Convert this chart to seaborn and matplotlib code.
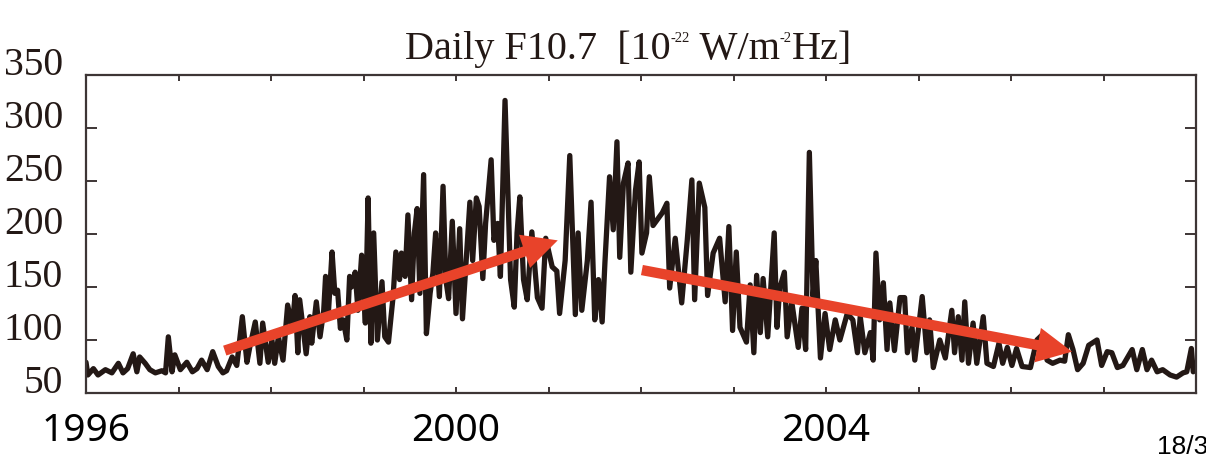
import matplotlib
matplotlib.use("Agg")
import matplotlib.pyplot as plt
import matplotlib.transforms as mtransforms
from matplotlib.patches import FancyArrowPatch
from matplotlib.ticker import FixedLocator, MultipleLocator
import seaborn as sns
import pandas as pd

# Daily F10.7 solar radio flux, 1996-2008 (decimal year, flux in sfu)
years = [
    1996.00, 1996.02, 1996.08, 1996.13, 1996.21, 1996.28, 1996.35, 1996.40, 1996.45, 1996.51,
    1996.55, 1996.58, 1996.64, 1996.69, 1996.75, 1996.82, 1996.86, 1996.89, 1996.93, 1996.96,
    1997.02, 1997.09, 1997.15, 1997.20, 1997.25, 1997.31, 1997.37, 1997.43, 1997.48, 1997.52,
    1997.58, 1997.63, 1997.69, 1997.74, 1997.77, 1997.83, 1997.88, 1997.91, 1997.97, 1998.01,
    1998.04, 1998.08, 1998.13, 1998.18, 1998.23, 1998.26, 1998.29, 1998.31, 1998.38, 1998.42,
    1998.44, 1998.49, 1998.53, 1998.57, 1998.59, 1998.62, 1998.66, 1998.69, 1998.72, 1998.75,
    1998.78, 1998.82, 1998.85, 1998.87, 1998.91, 1998.94, 1998.98, 1999.02, 1999.05, 1999.08,
    1999.11, 1999.15, 1999.20, 1999.23, 1999.27, 1999.32, 1999.35, 1999.39, 1999.41, 1999.45,
    1999.48, 1999.52, 1999.55, 1999.58, 1999.61, 1999.65, 1999.68, 1999.72, 1999.75, 1999.78,
    1999.82, 1999.86, 1999.89, 1999.92, 1999.96, 2000.00, 2000.04, 2000.07, 2000.11, 2000.15,
    2000.18, 2000.22, 2000.25, 2000.29, 2000.32, 2000.38, 2000.41, 2000.45, 2000.48, 2000.53,
    2000.55, 2000.59, 2000.63, 2000.66, 2000.69, 2000.73, 2000.77, 2000.82, 2000.88, 2000.93,
    2000.97, 2001.04, 2001.09, 2001.12, 2001.18, 2001.23, 2001.29, 2001.32, 2001.36, 2001.42,
    2001.46, 2001.50, 2001.54, 2001.58, 2001.61, 2001.66, 2001.70, 2001.74, 2001.77, 2001.81,
    2001.86, 2001.89, 2001.94, 2001.98, 2002.01, 2002.06, 2002.09, 2002.13, 2002.23, 2002.28,
    2002.31, 2002.37, 2002.44, 2002.50, 2002.55, 2002.58, 2002.63, 2002.69, 2002.72, 2002.78,
    2002.85, 2002.91, 2002.95, 2002.99, 2003.03, 2003.07, 2003.14, 2003.18, 2003.22, 2003.25,
    2003.29, 2003.32, 2003.37, 2003.44, 2003.47, 2003.50, 2003.55, 2003.58, 2003.63, 2003.70,
    2003.74, 2003.78, 2003.82, 2003.86, 2003.89, 2003.94, 2003.99, 2004.04, 2004.10, 2004.15,
    2004.23, 2004.29, 2004.34, 2004.37, 2004.42, 2004.48, 2004.51, 2004.54, 2004.58, 2004.62,
    2004.66, 2004.69, 2004.74, 2004.80, 2004.85, 2004.88, 2004.93, 2004.96, 2005.04, 2005.09,
    2005.12, 2005.16, 2005.23, 2005.29, 2005.36, 2005.39, 2005.43, 2005.47, 2005.50, 2005.54,
    2005.59, 2005.63, 2005.70, 2005.74, 2005.81, 2005.87, 2005.91, 2005.96, 2006.01, 2006.06,
    2006.12, 2006.21, 2006.28, 2006.34, 2006.39, 2006.45, 2006.53, 2006.58, 2006.62, 2006.67,
    2006.72, 2006.78, 2006.84, 2006.93, 2006.98, 2007.04, 2007.09, 2007.15, 2007.21, 2007.31,
    2007.36, 2007.42, 2007.47, 2007.52, 2007.58, 2007.64, 2007.72, 2007.79, 2007.86, 2007.90,
    2007.95, 2007.97, 2008.00,
]
flux = [
    79, 67, 73, 67, 72, 69, 78, 69, 73, 87,
    70, 84, 78, 72, 69, 71, 69, 103, 70, 86,
    72, 79, 70, 73, 81, 72, 89, 75, 69, 71,
    84, 76, 122, 79, 93, 117, 78, 116, 79, 100,
    78, 103, 81, 133, 112, 142, 88, 138, 87, 122,
    97, 136, 103, 128, 160, 125, 183, 144, 147, 111,
    119, 100, 160, 150, 164, 128, 180, 116, 234, 97,
    201, 100, 155, 103, 98, 141, 183, 157, 182, 160,
    218, 138, 201, 224, 144, 256, 106, 144, 163, 201,
    141, 245, 157, 139, 212, 125, 205, 120, 175, 230,
    175, 234, 226, 158, 210, 270, 194, 210, 160, 326,
    270, 157, 131, 201, 235, 157, 138, 202, 140, 130,
    196, 169, 165, 125, 175, 274, 124, 201, 128, 175,
    230, 119, 157, 117, 173, 254, 204, 287, 178, 248,
    267, 164, 241, 268, 182, 201, 254, 208, 220, 229,
    149, 196, 135, 194, 251, 138, 248, 225, 142, 182,
    196, 136, 207, 109, 183, 112, 98, 152, 88, 161,
    107, 158, 103, 201, 112, 149, 164, 103, 136, 93,
    130, 91, 277, 141, 175, 83, 125, 91, 119, 100,
    125, 119, 88, 122, 88, 107, 81, 182, 119, 154,
    91, 135, 90, 140, 140, 88, 112, 81, 141, 88,
    119, 74, 100, 83, 128, 88, 122, 81, 136, 78,
    116, 78, 122, 78, 75, 97, 78, 93, 76, 92,
    75, 74, 100, 105, 81, 78, 81, 80, 105, 91,
    72, 78, 95, 100, 76, 89, 88, 74, 76, 91,
    72, 91, 72, 81, 70, 72, 67, 65, 69, 70,
    92, 70, 73,
]

# Trend arrows: (start year, start flux, end year, end flux)
trend_rise = (1997.50, 90.0, 2001.10, 194.0)
trend_decay = (2002.01, 166.0, 2006.66, 89.0)

y_ticks = [50, 100, 150, 200, 250, 300, 350]
year_labels = [1996, 2000, 2004]
# title pieces: (text, is_superscript)
title_parts = [("Daily F10.7  [10", False), ("-22", True), (" W/m", False),
               ("-2", True), ("Hz]", False)]
page_text = "18/3"

LINE = "#231815"
ARROW = "#E8432A"
FRAME = "#3d3535"

sns.set_style("white")
plt.rcParams["font.family"] = ["Liberation Serif", "DejaVu Serif"]

fig = plt.figure(figsize=(12.06, 4.57), dpi=100)
ax = fig.add_axes([86 / 1206, 1 - 393 / 457, (1196 - 86) / 1206, (393 - 75) / 457])

df = pd.DataFrame({"year": years, "flux": flux})
sns.lineplot(data=df, x="year", y="flux", ax=ax, color=LINE, lw=3.8,
             estimator=None, sort=True)

ax.set_xlim(1996, 2008)
ax.set_ylim(50, 350)
ax.set_xlabel("")
ax.set_ylabel("")

for s in ax.spines.values():
    s.set_color(FRAME)
    s.set_linewidth(1.6)
    s.set_visible(True)

# x axis: yearly ticks top and bottom, labels every four years
ax.xaxis.set_major_locator(FixedLocator(year_labels))
ax.set_xticklabels([str(y) for y in year_labels])
ax.xaxis.set_minor_locator(MultipleLocator(1))
ax.tick_params(axis="x", which="both", direction="in", length=4.5, width=1.4,
               color=FRAME, top=True, bottom=True, pad=14)
for lab in ax.get_xticklabels():
    lab.set_family(["Noto Sans", "DejaVu Sans"])
    lab.set_fontsize(28)
    lab.set_color("black")

# y axis: ticks on both sides, labels nudged upward
ax.set_yticks(y_ticks)
ax.set_yticklabels([str(v) for v in y_ticks])
ax.tick_params(axis="y", which="both", direction="in", length=8, width=1.4,
               color=FRAME, left=True, right=True, pad=16.5)
shift = mtransforms.ScaledTranslation(0, 14 / 100, fig.dpi_scale_trans)
for lab in ax.get_yticklabels():
    lab.set_fontsize(28.5)
    lab.set_color("#231815")
    lab.set_transform(lab.get_transform() + shift)

# trend arrows
for x0, y0, x1, y1 in (trend_rise, trend_decay):
    arr = FancyArrowPatch((x0, y0), (x1, y1),
                          arrowstyle="simple,head_length=2.1,head_width=2.1,tail_width=0.62",
                          mutation_scale=12, color=ARROW, lw=0, zorder=5,
                          shrinkA=0, shrinkB=0)
    ax.add_patch(arr)

# title assembled piece by piece so the exponents stay small
main = fig.text(405 / 1206, 1 - 59 / 457, title_parts[0][0], ha="left",
                va="baseline", fontsize=29, color="#231815")
last = main
for text, is_sup in title_parts[1:]:
    if is_sup:
        last = ax.annotate(text, xy=(1.0, 0.97), xycoords=last,
                           ha="left", va="top", fontsize=10.5, color="#231815",
                           annotation_clip=False)
    else:
        last = ax.annotate(text, xy=(1.0, 0.0), xycoords=(last, main),
                           ha="left", va="bottom", fontsize=29, color="#231815",
                           annotation_clip=False)
        main = last

fig.text(1157 / 1206, 1 - 447 / 457, page_text, ha="left", va="center",
         fontsize=19, color="black", family=["Liberation Sans", "DejaVu Sans"])

fig.savefig("out.png", dpi=100, facecolor="white")
